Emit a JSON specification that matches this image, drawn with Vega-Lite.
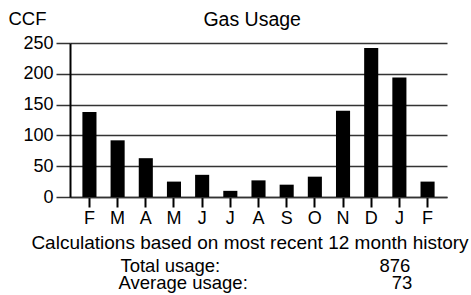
{
  "$schema": "https://vega.github.io/schema/vega-lite/v6.json",
  "width": 377,
  "height": 154,
  "autosize": {"type": "none"},
  "padding": {"left": 70, "top": 43, "right": 24, "bottom": 98},
  "background": "white",
  "config": {"view": {"stroke": null}, "font": "Liberation Sans"},
  "title": {
    "text": "Calculations based on most recent 12 month history",
    "subtitle": [
      "\u200b\u00a0\u00a0\u00a0\u00a0\u00a0\u00a0Total usage:\u00a0\u00a0\u00a0\u00a0\u00a0\u00a0\u00a0\u00a0\u00a0\u00a0\u00a0\u00a0\u00a0\u00a0\u00a0\u00a0\u00a0\u00a0\u00a0\u00a0\u00a0\u00a0\u00a0\u00a0\u00a0\u00a0\u00a0\u00a0\u00a0\u00a0\u00a0876",
      "\u200b\u00a0\u00a0\u00a0\u00a0\u00a0\u00a0Average usage:\u00a0\u00a0\u00a0\u00a0\u00a0\u00a0\u00a0\u00a0\u00a0\u00a0\u00a0\u00a0\u00a0\u00a0\u00a0\u00a0\u00a0\u00a0\u00a0\u00a0\u00a0\u00a0\u00a0\u00a0\u00a0\u00a0\u00a0\u00a073"
    ],
    "orient": "bottom",
    "frame": "group",
    "anchor": "middle",
    "dx": -8.5,
    "offset": 7,
    "fontSize": 19,
    "fontWeight": "normal",
    "color": "black",
    "subtitleFontSize": 18.5,
    "subtitleColor": "black",
    "subtitleLineHeight": 16.6,
    "subtitlePadding": 4
  },
  "data": {
    "values": [
      {"k": "F1", "ccf": 138},
      {"k": "M1", "ccf": 92},
      {"k": "A1", "ccf": 63},
      {"k": "M2", "ccf": 25},
      {"k": "J1", "ccf": 36},
      {"k": "J2", "ccf": 10},
      {"k": "A2", "ccf": 27},
      {"k": "S1", "ccf": 20},
      {"k": "O1", "ccf": 33},
      {"k": "N1", "ccf": 140},
      {"k": "D1", "ccf": 242},
      {"k": "J3", "ccf": 194},
      {"k": "F2", "ccf": 25}
    ]
  },
  "mark": {"type": "bar", "color": "black"},
  "encoding": {
    "x": {
      "field": "k",
      "type": "nominal",
      "sort": null,
      "scale": {"paddingInner": 0.5, "paddingOuter": 0.44},
      "axis": {
        "labelExpr": "substring(datum.value, 0, 1)",
        "labelAngle": 0,
        "labelFontSize": 18,
        "labelColor": "black",
        "labelPadding": 2,
        "tickSize": 10,
        "tickColor": "black",
        "tickWidth": 2,
        "domainColor": "#333333",
        "domainWidth": 1.5,
        "grid": false,
        "title": "Gas Usage",
        "titleFontSize": 19.5,
        "titleFontWeight": "normal",
        "titleColor": "black",
        "titleX": 181.7,
        "titleY": -172,
        "titleBaseline": "alphabetic",
        "titleAlign": "center"
      }
    },
    "y": {
      "field": "ccf",
      "type": "quantitative",
      "scale": {"domain": [0, 250], "nice": false},
      "axis": {
        "values": [0, 50, 100, 150, 200, 250],
        "grid": true,
        "gridColor": "#333333",
        "gridWidth": 1.5,
        "tickColor": "#333333",
        "tickWidth": 1.5,
        "tickSize": 14,
        "domainColor": "black",
        "domainWidth": 2,
        "labelFontSize": 18,
        "labelColor": "black",
        "labelPadding": 3,
        "title": "CCF",
        "titleAngle": 0,
        "titleAlign": "left",
        "titleBaseline": "alphabetic",
        "titleX": -62,
        "titleY": -18.7,
        "titleFontSize": 18.5,
        "titleFontWeight": "normal",
        "titleColor": "black"
      }
    }
  }
}
